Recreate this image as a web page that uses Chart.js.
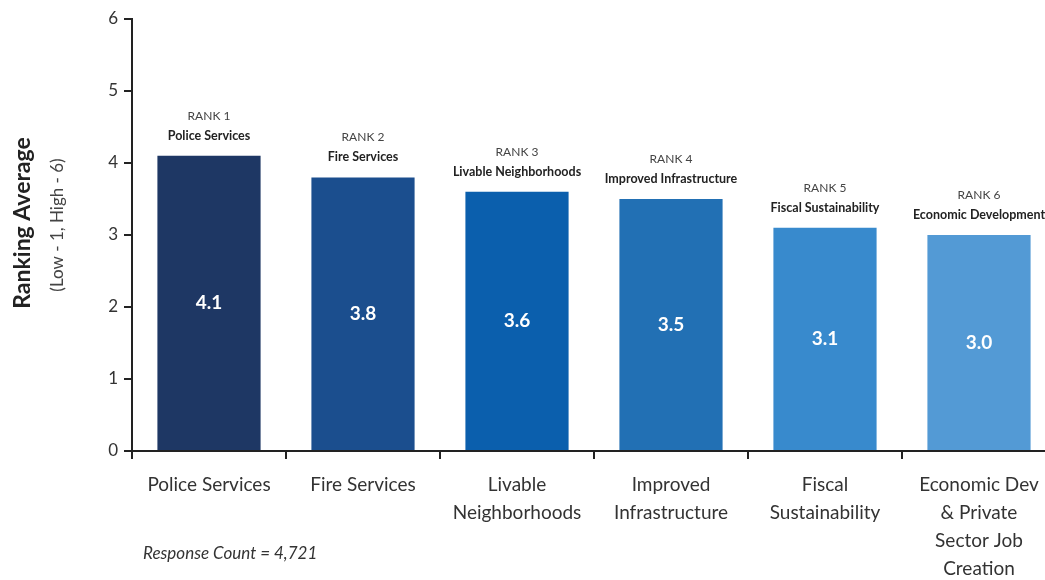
<!DOCTYPE html>
<html>
<head>
<meta charset="utf-8">
<script src="https://cdn.jsdelivr.net/npm/chart.js@4.4.0/dist/chart.umd.min.js"></script>
<style>
  html, body { margin: 0; padding: 0; background: #fff; overflow: hidden; }
  #wrap { width: 1056px; height: 580px; }
</style>
</head>
<body>
<div id="wrap"><canvas id="rankChart" width="1056" height="580"></canvas></div>
<script>
// categorias (eixo x) e médias de ranking
var categorias = [
  ['Police Services'],
  ['Fire Services'],
  ['Livable', 'Neighborhoods'],
  ['Improved', 'Infrastructure'],
  ['Fiscal', 'Sustainability'],
  ['Economic Dev', '& Private', 'Sector Job', 'Creation']
];
var mediasRanking = [4.1, 3.8, 3.6, 3.5, 3.1, 3.0];
var rotulosRank = ['RANK 1', 'RANK 2', 'RANK 3', 'RANK 4', 'RANK 5', 'RANK 6'];
var nomesRank = ['Police Services', 'Fire Services', 'Livable Neighborhoods',
  'Improved Infrastructure', 'Fiscal Sustainability', 'Economic Development'];
var ticksY = [0, 1, 2, 3, 4, 5, 6];

var coresBarras = ['#1e3764', '#1b4e8e', '#0b5fad', '#2270b4', '#388acd', '#539ad5'];
var fonte = 'Lato, "Open Sans", sans-serif';

// textos extras: rank acima das barras, valor no meio, título do eixo y, contagem
var textosExtras = {
  id: 'textosExtras',
  afterDatasetsDraw: function (chart) {
    var ctx = chart.ctx;
    var meta = chart.getDatasetMeta(0);
    ctx.save();
    ctx.textAlign = 'center';
    ctx.textBaseline = 'middle';
    meta.data.forEach(function (bar, i) {
      ctx.fillStyle = '#444';
      ctx.font = '12px ' + fonte;
      ctx.fillText(rotulosRank[i], bar.x, bar.y - 40);
      ctx.fillStyle = '#222';
      ctx.font = 'bold 12.5px ' + fonte;
      ctx.fillText(nomesRank[i], bar.x, bar.y - 20);
      ctx.fillStyle = '#ffffff';
      ctx.font = 'bold 19px ' + fonte;
      ctx.fillText(mediasRanking[i].toFixed(1), bar.x, (bar.y + bar.base) / 2);
    });

    // título do eixo y
    ctx.save();
    ctx.translate(23, 223);
    ctx.rotate(-Math.PI / 2);
    ctx.fillStyle = '#222';
    ctx.font = 'bold 23px ' + fonte;
    ctx.fillText('Ranking Average', 0, 0);
    ctx.restore();
    ctx.save();
    ctx.translate(58, 225);
    ctx.rotate(-Math.PI / 2);
    ctx.fillStyle = '#444';
    ctx.font = '17px ' + fonte;
    ctx.fillText('(Low - 1, High - 6)', 0, 0);
    ctx.restore();

    ctx.textAlign = 'left';
    ctx.fillStyle = '#333';
    ctx.font = 'italic 17px ' + fonte;
    ctx.fillText('Response Count = 4,721', 143, 554);
    ctx.restore();
  }
};

var ctx = document.getElementById('rankChart').getContext('2d');
var grafico = new Chart(ctx, {
  type: 'bar',
  data: {
    labels: categorias,
    datasets: [{
      data: mediasRanking,
      backgroundColor: coresBarras,
      borderWidth: 0,
      barPercentage: 0.67,
      categoryPercentage: 1
    }]
  },
  options: {
    responsive: false,
    animation: false,
    layout: { padding: { top: 19, right: 0, bottom: 0, left: 0 } },
    plugins: {
      legend: { display: false },
      tooltip: { enabled: false }
    },
    scales: {
      x: {
        afterFit: function (s) { s.height = 129; },
        grid: { drawOnChartArea: false, drawTicks: true, tickLength: 8, color: '#222', lineWidth: 2 },
        border: { color: '#222', width: 2 },
        ticks: {
          color: '#333',
          padding: 12,
          maxRotation: 0,
          autoSkip: false,
          font: { family: fonte, size: 19, lineHeight: 1.47 }
        }
      },
      y: {
        min: 0,
        max: 6,
        afterFit: function (s) { s.width = 132; },
        afterBuildTicks: function (s) { s.ticks = ticksY.map(function (v) { return { value: v }; }); },
        grid: { drawOnChartArea: false, drawTicks: true, tickLength: 8, color: '#222', lineWidth: 2 },
        border: { color: '#222', width: 2 },
        ticks: {
          color: '#333',
          padding: 6,
          font: { family: fonte, size: 17 }
        }
      }
    }
  },
  plugins: [textosExtras]
});
</script>
</body>
</html>
